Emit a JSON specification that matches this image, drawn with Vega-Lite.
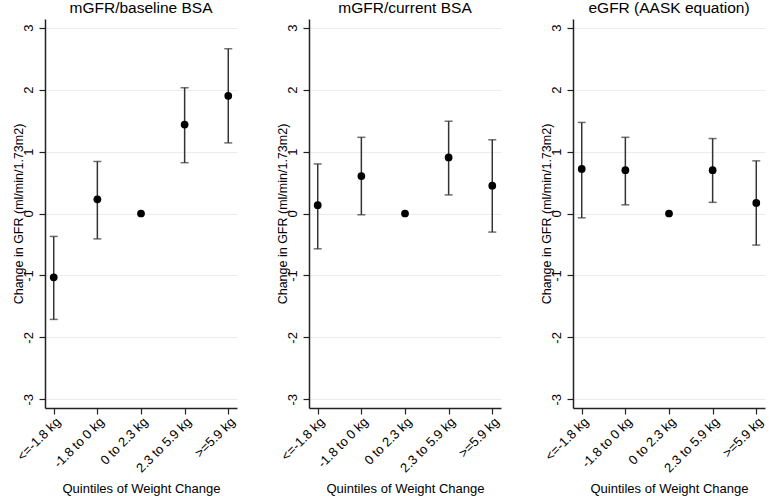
{
  "$schema": "https://vega.github.io/schema/vega-lite/v6.json",
  "padding": {"left": 12, "top": 0, "right": 0, "bottom": 0},
  "background": "white",
  "config": {
    "font": "Liberation Sans",
    "view": {"stroke": null},
    "axis": {"labelFont": "Liberation Sans", "titleFont": "Liberation Sans", "labelColor": "black", "titleColor": "black", "titleFontWeight": "normal", "domainColor": "#222", "tickColor": "#222", "domainWidth": 1.5, "tickWidth": 1.2}
  },
  "data": {"values": [
    {"panel": "mGFR/baseline BSA", "cat": "<=-1.8 kg", "est": -1.03, "lo": -1.71, "hi": -0.37},
    {"panel": "mGFR/baseline BSA", "cat": "-1.8 to 0 kg", "est": 0.23, "lo": -0.41, "hi": 0.84},
    {"panel": "mGFR/baseline BSA", "cat": "0 to 2.3 kg", "est": 0, "lo": null, "hi": null},
    {"panel": "mGFR/baseline BSA", "cat": "2.3 to 5.9 kg", "est": 1.435, "lo": 0.82, "hi": 2.03},
    {"panel": "mGFR/baseline BSA", "cat": ">=5.9 kg", "est": 1.9, "lo": 1.14, "hi": 2.66},
    {"panel": "mGFR/current BSA", "cat": "<=-1.8 kg", "est": 0.135, "lo": -0.57, "hi": 0.8},
    {"panel": "mGFR/current BSA", "cat": "-1.8 to 0 kg", "est": 0.605, "lo": -0.02, "hi": 1.23},
    {"panel": "mGFR/current BSA", "cat": "0 to 2.3 kg", "est": 0, "lo": null, "hi": null},
    {"panel": "mGFR/current BSA", "cat": "2.3 to 5.9 kg", "est": 0.906, "lo": 0.3, "hi": 1.49},
    {"panel": "mGFR/current BSA", "cat": ">=5.9 kg", "est": 0.45, "lo": -0.3, "hi": 1.19},
    {"panel": "eGFR (AASK equation)", "cat": "<=-1.8 kg", "est": 0.72, "lo": -0.07, "hi": 1.47},
    {"panel": "eGFR (AASK equation)", "cat": "-1.8 to 0 kg", "est": 0.7, "lo": 0.14, "hi": 1.23},
    {"panel": "eGFR (AASK equation)", "cat": "0 to 2.3 kg", "est": 0, "lo": null, "hi": null},
    {"panel": "eGFR (AASK equation)", "cat": "2.3 to 5.9 kg", "est": 0.7, "lo": 0.18, "hi": 1.21},
    {"panel": "eGFR (AASK equation)", "cat": ">=5.9 kg", "est": 0.17, "lo": -0.51, "hi": 0.85}
  ]},
  "facet": {
    "column": {
      "field": "panel", "type": "nominal",
      "sort": ["mGFR/baseline BSA", "mGFR/current BSA", "eGFR (AASK equation)"],
      "header": {"title": null, "labelFont": "Liberation Sans", "labelFontSize": 15.5, "labelColor": "black", "labelPadding": 3}
    }
  },
  "spacing": 38,
  "resolve": {"axis": {"x": "independent", "y": "independent"}},
  "spec": {
    "width": 192,
    "height": 389,
    "encoding": {
      "x": {"field": "cat", "type": "ordinal",
        "sort": ["<=-1.8 kg", "-1.8 to 0 kg", "0 to 2.3 kg", "2.3 to 5.9 kg", ">=5.9 kg"],
        "scale": {"type": "point", "padding": 0.2},
        "axis": {"title": "Quintiles of Weight Change", "titleFontSize": 13, "titlePadding": 8, "labelAngle": -45, "labelFontSize": 13, "tickSize": 6, "labelPadding": 1, "grid": false}}
    },
    "layer": [
      {
        "mark": {"type": "rule", "color": "#555", "strokeWidth": 1.2},
        "encoding": {"y": {"datum": 0}}
      },
      {
        "transform": [{"filter": "datum.lo != null"}],
        "mark": {"type": "rule", "color": "#333", "strokeWidth": 1.5},
        "encoding": {
          "y": {"field": "lo", "type": "quantitative",
            "scale": {"domain": [-3.14, 3.14], "nice": false, "zero": false},
            "axis": {"title": "Change in GFR (ml/min/1.73m2)", "titleFontSize": 12.5, "titlePadding": -3, "values": [-3, -2, -1, 0, 1, 2, 3], "labelExpr": "'' + datum.value", "labelAngle": -90, "labelAlign": "center", "labelBaseline": "bottom", "labelFontSize": 13, "tickSize": 6, "labelPadding": 4, "grid": true, "gridColor": "#ececec", "gridWidth": 1}},
          "y2": {"field": "hi"}
        }
      },
      {
        "transform": [{"filter": "datum.lo != null"}],
        "mark": {"type": "tick", "color": "#333", "size": 8, "thickness": 1.5},
        "encoding": {"y": {"field": "lo", "type": "quantitative"}}
      },
      {
        "transform": [{"filter": "datum.lo != null"}],
        "mark": {"type": "tick", "color": "#333", "size": 8, "thickness": 1.5},
        "encoding": {"y": {"field": "hi", "type": "quantitative"}}
      },
      {
        "mark": {"type": "point", "filled": true, "color": "black", "opacity": 1, "size": 60},
        "encoding": {"y": {"field": "est", "type": "quantitative"}}
      }
    ]
  }
}
